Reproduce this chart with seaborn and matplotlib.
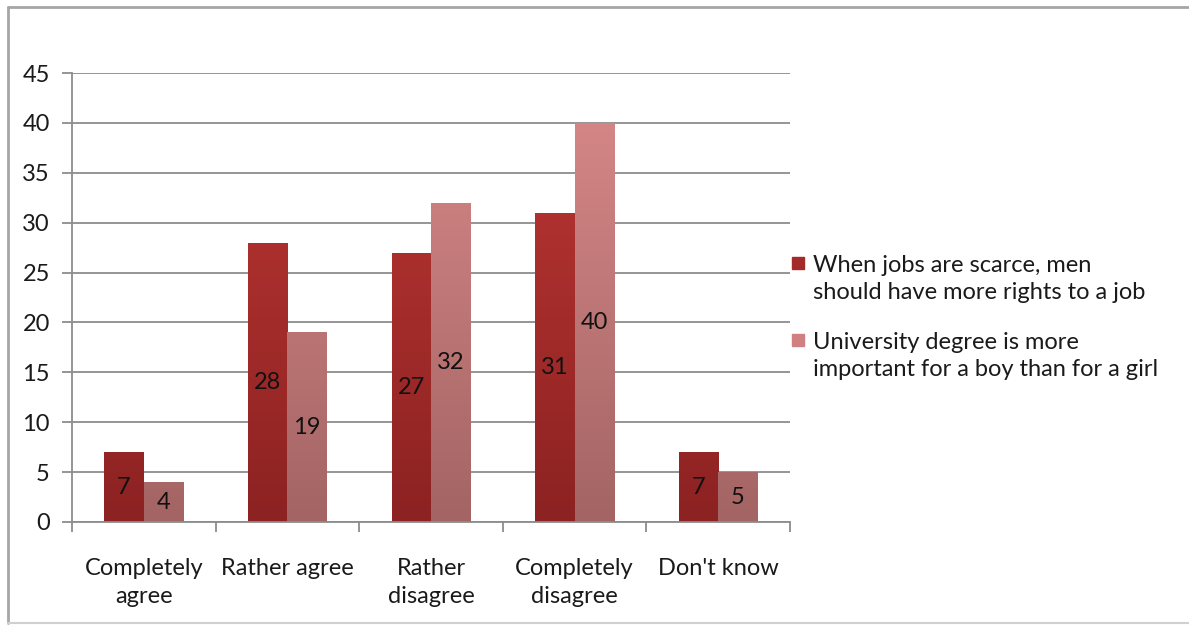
import matplotlib
matplotlib.use("Agg")
import matplotlib.pyplot as plt
import seaborn as sns
import numpy as np
import pandas as pd
from matplotlib.colors import LinearSegmentedColormap
from matplotlib.lines import Line2D
from matplotlib.legend_handler import HandlerLine2D

categories = ["Completely\nagree", "Rather agree", "Rather\ndisagree", "Completely\ndisagree", "Don't know"]
series_names = ["When jobs are scarce, men\nshould have more rights to a job",
                "University degree is more\nimportant for a boy than for a girl"]
values_jobs = [7, 28, 27, 31, 7]
values_degree = [4, 19, 32, 40, 5]
yticks = [0, 5, 10, 15, 20, 25, 30, 35, 40, 45]

top_colors = ["#BE3834", "#DA8A8A"]
bottom_colors = ["#8C2222", "#A46464"]

sns.set_theme(style="white")
plt.rcParams['font.family'] = ['Lato', 'DejaVu Sans']

FS = 17

df = pd.DataFrame({
    "category": categories * 2,
    "value": values_jobs + values_degree,
    "series": [series_names[0]] * 5 + [series_names[1]] * 5,
})

fig = plt.figure(figsize=(11.89, 6.25), dpi=100)
ax = fig.add_axes([72/1189, (625-522)/625, (790-72)/1189, (522-73)/625])

sns.barplot(data=df, x="category", y="value", hue="series", hue_order=series_names,
            palette=top_colors, ax=ax, width=0.55, dodge=True, legend=False,
            saturation=1, errorbar=None)

ax.set_ylim(0, 45)
ax.set_xlim(-0.5, 4.5)
ax.set_yticks(yticks)
ax.set_axisbelow(True)
ax.yaxis.grid(True, color="#8c8c8c", linewidth=1.3)
ax.xaxis.grid(False)
for s in ["top", "right"]:
    ax.spines[s].set_visible(False)
for s in ["left", "bottom"]:
    ax.spines[s].set_color("#8c8c8c")
    ax.spines[s].set_linewidth(1.3)
ax.set_xlabel("")
ax.set_ylabel("")
ax.tick_params(axis="y", left=True, length=7, color="#8c8c8c", width=1.3, labelsize=FS, pad=9, labelcolor="#1a1a1a")
ax.tick_params(axis="x", bottom=False, labelsize=FS, pad=20, labelcolor="#1a1a1a")
ax.set_xticks(np.arange(5))
ax.set_xticks(np.arange(-0.5, 5.0, 1.0), minor=True)
ax.tick_params(axis="x", which="minor", bottom=True, length=7, color="#8c8c8c", width=1.3)
for t in ax.get_xticklabels():
    t.set_linespacing(1.4)

bars = list(ax.patches)
for i, p in enumerate(bars):
    s = 0 if i < 5 else 1
    cmap = LinearSegmentedColormap.from_list("g", [bottom_colors[s], top_colors[s]])
    x0 = p.get_x()
    w, h = p.get_width(), p.get_height()
    grad = np.linspace(0, 1, 256).reshape(-1, 1)
    im = ax.imshow(grad, extent=[x0, x0 + w, 0, 45], origin="lower", aspect="auto",
                   cmap=cmap, zorder=p.get_zorder() + 0.1)
    im.set_clip_path(p)
    p.set_edgecolor("none")
    ax.text(x0 + w / 2, h / 2, f"{h:g}", ha="center", va="center", fontsize=FS,
            color="#111111", zorder=5)
ax.set_xlim(-0.5, 4.5)
ax.set_ylim(0, 45)


class TopAlignedHandler(HandlerLine2D):
    def create_artists(self, legend, orig_handle, xdescent, ydescent, width, height, fontsize, trans):
        artists = super().create_artists(legend, orig_handle, xdescent, ydescent, width, height, fontsize, trans)
        for a in artists:
            yd = np.asarray(a.get_ydata(), dtype=float)
            a.set_ydata(yd + 0.7 * fontsize)
        return artists


handles = [Line2D([0], [0], marker="s", linestyle="none", markersize=9,
                  markerfacecolor=c, markeredgecolor=c) for c in ["#A52A2A", "#D08080"]]
leg = fig.legend(handles, series_names, loc="center left", bbox_to_anchor=(767/1189, 0.492),
                 frameon=False, fontsize=FS, handletextpad=0.25, labelspacing=1.2,
                 handlelength=0.8, labelcolor="#1a1a1a",
                 handler_map={Line2D: TopAlignedHandler()})
for t in leg.get_texts():
    t.set_linespacing(1.4)

fig.add_artist(Line2D([8/1189, 8/1189], [1 - 7/625, 1 - 623/625], color="#a6a6a6", lw=2, transform=fig.transFigure))
fig.add_artist(Line2D([8/1189, 1.0], [1 - 7/625, 1 - 7/625], color="#a6a6a6", lw=2, transform=fig.transFigure))
fig.add_artist(Line2D([8/1189, 1.0], [1 - 623/625, 1 - 623/625], color="#d0d0d0", lw=1.5, transform=fig.transFigure))

fig.savefig("out.png", dpi=100, facecolor="white")
